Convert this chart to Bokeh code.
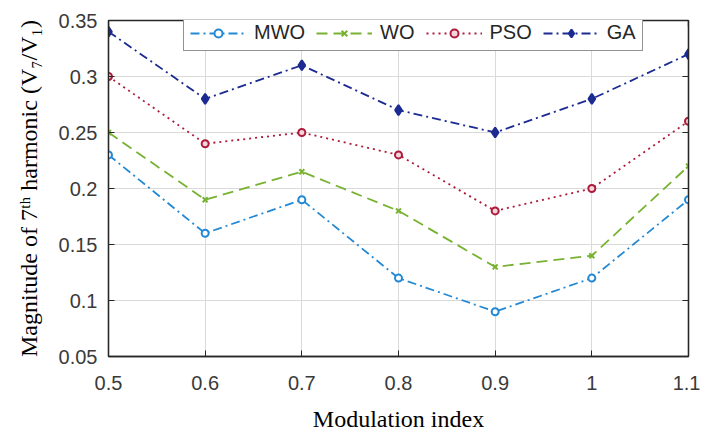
from bokeh.plotting import figure
from bokeh.models import LinearAxis, Range1d, Legend, LegendItem, FixedTicker
from bokeh.embed import file_html
from bokeh.resources import INLINE

mod_index = [0.5, 0.6, 0.7, 0.8, 0.9, 1.0, 1.1]
mwo = [0.23, 0.16, 0.19, 0.12, 0.09, 0.12, 0.19]
wo = [0.25, 0.19, 0.215, 0.18, 0.13, 0.14, 0.22]
pso = [0.30, 0.24, 0.25, 0.23, 0.18, 0.20, 0.26]
ga = [0.34, 0.28, 0.31, 0.27, 0.25, 0.28, 0.32]
x_ticks = [0.5, 0.6, 0.7, 0.8, 0.9, 1.0, 1.1]
x_labels = ["0.5", "0.6", "0.7", "0.8", "0.9", "1", "1.1"]
y_ticks = [0.05, 0.1, 0.15, 0.2, 0.25, 0.3, 0.35]
y_labels = ["0.05", "0.1", "0.15", "0.2", "0.25", "0.3", "0.35"]

p = figure(width=700, height=434, output_backend="svg", toolbar_location=None,
           x_range=Range1d(0.5, 1.1), y_range=Range1d(0.05, 0.35),
           min_border_left=108, min_border_top=20, min_border_right=12, min_border_bottom=10)
p.title.visible = False
p.background_fill_color = "white"
p.border_fill_color = "white"
p.outline_line_color = "#262626"
p.outline_line_width = 1.3

def style_axis(ax):
    ax.major_tick_in = 6
    ax.major_tick_out = 0
    ax.minor_tick_in = 0
    ax.minor_tick_out = 0
    ax.axis_line_color = "#262626"
    ax.axis_line_width = 1.3
    ax.major_tick_line_color = "#262626"
    ax.major_label_text_font = "Liberation Sans"
    ax.major_label_text_font_size = "20px"
    ax.major_label_text_color = "#3a3a3a"

p.xaxis.ticker = FixedTicker(ticks=x_ticks)
p.yaxis.ticker = FixedTicker(ticks=y_ticks)
p.xaxis.major_label_overrides = dict(zip(x_ticks, x_labels))
p.yaxis.major_label_overrides = dict(zip(y_ticks, y_labels))
style_axis(p.xaxis[0])
style_axis(p.yaxis[0])
p.xaxis.major_label_standoff = 19
p.yaxis.major_label_standoff = 11

p.xaxis.axis_label = "Modulation index"
p.yaxis.axis_label = "Magnitude of 7ᵗʰ harmonic (V₇/V₁)"
for ax in (p.xaxis[0], p.yaxis[0]):
    ax.axis_label_text_font = "Liberation Serif"
    ax.axis_label_text_font_size = "24px"
    ax.axis_label_text_font_style = "normal"
    ax.axis_label_text_color = "black"
p.xaxis.axis_label_standoff = 13
p.yaxis.axis_label_standoff = 14

right_ax = LinearAxis(ticker=FixedTicker(ticks=y_ticks))
style_axis(right_ax)
right_ax.major_label_overrides = {t: "" for t in y_ticks}
right_ax.major_label_standoff = 0
p.add_layout(right_ax, "right")

# top-edge ticks (inward) at the upper y limit
y_top = y_ticks[-1]
tick_len = 0.0055
p.segment(x0=x_ticks, y0=[y_top] * len(x_ticks), x1=x_ticks,
          y1=[y_top - tick_len] * len(x_ticks), line_color="#262626", line_width=1.3)

p.xgrid.ticker = FixedTicker(ticks=x_ticks)
p.ygrid.ticker = FixedTicker(ticks=y_ticks)
p.grid.grid_line_color = "#dadada"
p.grid.grid_line_width = 1

series = [
    ("MWO", mwo, "#2389d4", "9 4 2 4", "circle", "white", 7),
    ("WO", wo, "#78b232", "11 6", "x", None, 7),
    ("PSO", pso, "#ad1a3a", "2 4", "circle", "#f3d6dc", 7),
    ("GA", ga, "#1c2b92", "9 4 2 4", "diamond", "#1c2b92", 10),
]
items = []
for name, ys, col, dash, marker, fill, size in series:
    r1 = p.line(mod_index, ys, line_color=col, line_width=1.8, line_dash=dash)
    r2 = p.scatter(mod_index, ys, marker=marker, size=size, line_color=col,
                   line_width=2, fill_color=col if fill is None else fill)
    items.append(LegendItem(label=name, renderers=[r1, r2]))

legend = Legend(items=items, orientation="horizontal", location=(75, 305),
                border_line_color="#262626", border_line_width=1.3,
                background_fill_color="white", background_fill_alpha=1,
                label_text_font="Liberation Sans", label_text_font_size="20px",
                label_text_color="#262626", glyph_width=56, glyph_height=20,
                label_standoff=8, spacing=11, padding=6, margin=0)
p.add_layout(legend, "center")

open("out.html", "w").write(file_html(p, INLINE))
